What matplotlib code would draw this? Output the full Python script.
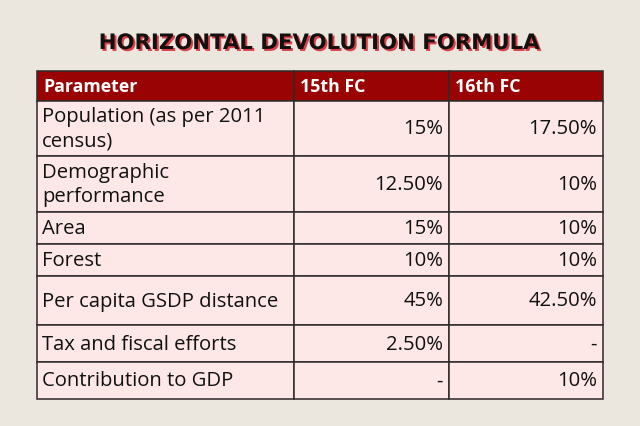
import matplotlib
matplotlib.use("Agg")
import matplotlib.pyplot as plt
from matplotlib.patches import Rectangle
import matplotlib.patheffects as pe

# ---- data ----
title = "HORIZONTAL DEVOLUTION FORMULA"
headers = ["Parameter", "15th FC", "16th FC"]
parameters = ["Population (as per 2011\ncensus)", "Demographic\nperformance", "Area", "Forest",
              "Per capita GSDP distance", "Tax and fiscal efforts", "Contribution to GDP"]
fc15 = ["15%", "12.50%", "15%", "10%", "45%", "2.50%", "-"]
fc16 = ["17.50%", "10%", "10%", "10%", "42.50%", "-", "10%"]

# ---- layout (pixels) ----
W, H = 640, 426
col_edges = [37, 294, 449, 603]
row_edges = [71, 101, 156, 212, 244, 276, 325, 362, 399]
pad = 6

bg = "#ebe6de"
head_col = "#990303"
cell_col = "#fde7e7"
line_col = "#2e2a2a"

fig = plt.figure(figsize=(W / 100, H / 100), dpi=100, facecolor=bg)
ax = fig.add_axes([0, 0, 1, 1])
ax.set_xlim(0, W)
ax.set_ylim(H, 0)
ax.axis("off")
ax.set_facecolor(bg)

# title with red shadow
ax.text(320, 43, title, ha="center", va="center", fontsize=15.3,
        fontweight="heavy", family="DejaVu Sans", color="#141010",
        path_effects=[pe.SimplePatchShadow(offset=(1.4, -1.4), shadow_rgbFace="#d9404a", alpha=1.0),
                      pe.Normal()])

rows = [headers] + [list(r) for r in zip(parameters, fc15, fc16)]
for i, row in enumerate(rows):
    y0, y1 = row_edges[i], row_edges[i + 1]
    for j, txt in enumerate(row):
        x0, x1 = col_edges[j], col_edges[j + 1]
        fc = head_col if i == 0 else cell_col
        ax.add_patch(Rectangle((x0, y0), x1 - x0, y1 - y0, facecolor=fc,
                               edgecolor=line_col, linewidth=1.1))
        ym = (y0 + y1) / 2
        if i == 0:
            ax.text(x0 + pad, ym + 1, txt, ha="left", va="center", fontsize=12.8,
                    fontweight="bold", family="Open Sans", color="white")
        elif j == 0:
            ax.text(x0 + pad - 1, ym + 1, txt, ha="left", va="center", fontsize=14.6,
                    family="Open Sans", color="#111111", linespacing=1.28)
        else:
            ax.text(x1 - pad, ym + 1, txt, ha="right", va="center", fontsize=14.6,
                    family="Open Sans", color="#111111")

fig.savefig("out.png", dpi=100, facecolor=bg)
